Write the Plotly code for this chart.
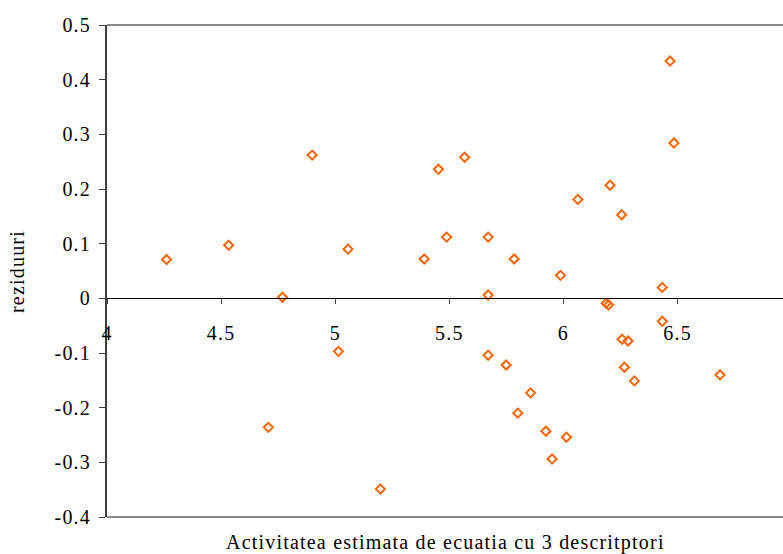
import plotly.graph_objects as go

# Estimated activity (x) and residuals (y)
activitate = [4.261, 4.533, 4.707, 4.769, 4.899, 5.014, 5.056, 5.198, 5.390, 5.452,
              5.488, 5.567, 5.670, 5.670, 5.670, 5.749, 5.784, 5.800, 5.856, 5.923,
              5.950, 5.987, 6.013, 6.063, 6.187, 6.198, 6.204, 6.255, 6.257, 6.267,
              6.283, 6.311, 6.433, 6.433, 6.467, 6.484, 6.686]
reziduuri = [0.071, 0.097, -0.236, 0.002, 0.262, -0.097, 0.090, -0.349, 0.072, 0.236,
             0.112, 0.258, 0.112, 0.006, -0.104, -0.122, 0.072, -0.210, -0.173, -0.243,
             -0.294, 0.042, -0.254, 0.181, -0.009, -0.012, 0.207, 0.153, -0.075, -0.126,
             -0.078, -0.151, 0.020, -0.042, 0.434, 0.284, -0.140]

x_ticks = [4, 4.5, 5, 5.5, 6, 6.5]
x_ticktext = ["4", "4.5", "5", "5.5", "6", "6.5"]
y_ticks = [0.5, 0.4, 0.3, 0.2, 0.1, 0, -0.1, -0.2, -0.3, -0.4]
y_ticktext = ["0.5", "0.4", "0.3", "0.2", "0.1", "0", "-0.1", "-0.2", "-0.3", "-0.4"]
x_title = "Activitatea estimata de ecuatia cu 3 descritptori"
y_title = "reziduuri"

FONT = "Liberation Serif"
FS = 20
SP = "letter-spacing:1.2px"
W, H = 783, 554
L, R, T, B = 107, 0, 25, 37
ymin, ymax = -0.4, 0.5


def spaced(s):
    return f'<span style="{SP}">{s}</span>'


fig = go.Figure()
fig.add_trace(go.Scatter(
    x=activitate, y=reziduuri, mode="markers",
    marker=dict(symbol="diamond-open", size=7, color="#FF6600",
                line=dict(color="#FF6600", width=2)),
    showlegend=False, cliponaxis=False,
))

fig.update_layout(
    width=W, height=H,
    margin=dict(l=L, r=R, t=T, b=B, pad=0),
    paper_bgcolor="white", plot_bgcolor="white",
    font=dict(family=FONT, size=FS, color="black"),
    xaxis=dict(
        range=[4, 6.962], showgrid=False, zeroline=False,
        tickvals=x_ticks, ticktext=[spaced(t) for t in x_ticktext],
        ticks="outside", ticklen=5, tickcolor="#404040", tickwidth=1,
        showline=True, linecolor="black", linewidth=1,
        anchor="free", position=(0 - ymin) / (ymax - ymin),
        tickfont=dict(family=FONT, size=FS),
        ticklabelstandoff=12,
    ),
    yaxis=dict(
        range=[ymin, ymax], showgrid=False, zeroline=False,
        tickvals=y_ticks, ticktext=[spaced(t) for t in y_ticktext],
        ticks="outside", ticklen=6, tickcolor="#404040", tickwidth=1,
        showline=True, linecolor="#404040", linewidth=2,
        tickfont=dict(family=FONT, size=FS),
        ticklabelstandoff=4,
    ),
    shapes=[
        dict(type="line", xref="paper", yref="paper", x0=0, x1=1, y0=1, y1=1,
             line=dict(color="#888888", width=2)),
        dict(type="line", xref="paper", yref="paper", x0=0, x1=1, y0=0, y1=0,
             line=dict(color="#888888", width=2)),
    ],
    annotations=[
        dict(text=spaced(x_title),
             xref="paper", yref="paper", x=0.5, y=(517 - 542) / (H - T - B),
             xanchor="center", yanchor="middle", showarrow=False,
             font=dict(family=FONT, size=FS)),
        dict(text=spaced(y_title), xref="paper", yref="paper",
             x=(17 - L) / (W - L - R), y=0.5, textangle=-90,
             xanchor="center", yanchor="middle", showarrow=False,
             font=dict(family=FONT, size=FS)),
    ],
)

fig.write_html("out.html")
